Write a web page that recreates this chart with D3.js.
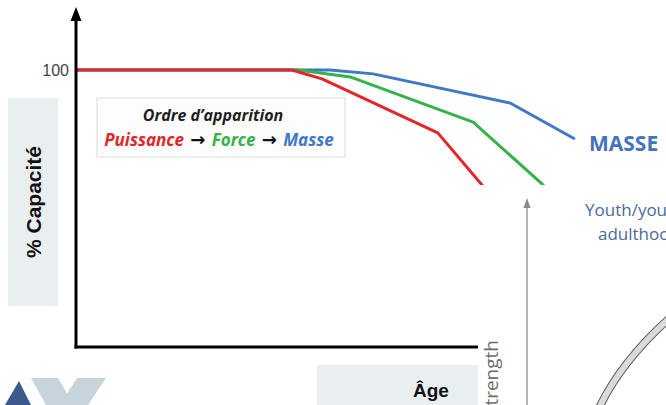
<!DOCTYPE html>
<html>
<head>
<meta charset="utf-8">
<script src="https://cdn.jsdelivr.net/npm/d3@7"></script>
<style>
  html, body { margin: 0; padding: 0; background: #ffffff; }
  svg { display: block; }
</style>
</head>
<body>
<svg id="chart" width="666" height="405"></svg>
<script>
// Age (arbitrary units, axis end = 100) and capacity (% of peak)
const puissanceAge = [0, 53.7, 61.2, 90.0, 101.0, 106.7];
const puissanceCap = [100, 100, 96.8, 77.3, 58.5, 47.7];
const forceAge     = [0, 55.2, 68.2, 98.8, 116.2, 120.4];
const forceCap     = [100, 100, 97.5, 81.2, 58.5, 52.0];
const masseAge     = [0, 63.2, 73.9, 108.0, 124.1];
const masseCap     = [100, 100, 98.6, 88.1, 75.1];

const yTicks = [100];
const legendTitle = "Ordre d\u2019apparition";
const legendItems = ["Puissance", "Force", "Masse"];
const colors = { Puissance: "#e4252b", Force: "#35b34a", Masse: "#3f78c6" };

const svg = d3.select("#chart");

const x = d3.scaleLinear().domain([0, 100]).range([76, 478]);
const y = d3.scaleLinear().domain([0, 100]).range([347, 70]);

// Side label panels
svg.append("rect").attr("x", 8).attr("y", 98).attr("width", 50).attr("height", 208)
  .attr("fill", "#e9eef1");
svg.append("text")
  .attr("transform", "translate(41,202) rotate(-90)")
  .attr("text-anchor", "middle")
  .attr("font-family", "Liberation Sans, Arial, sans-serif")
  .attr("font-weight", "bold").attr("font-size", 21).attr("fill", "#111")
  .text("% Capacit\u00e9");

svg.append("rect").attr("x", 317).attr("y", 365).attr("width", 161).attr("height", 45)
  .attr("fill", "#e9eef1");
svg.append("text")
  .attr("x", 431).attr("y", 397)
  .attr("text-anchor", "middle")
  .attr("font-family", "Liberation Sans, Arial, sans-serif")
  .attr("font-weight", "bold").attr("font-size", 19).attr("fill", "#111")
  .text("\u00c2ge");

// Logo shapes, bottom left
svg.append("path").attr("d", "M31,378 L58,378 L74,405 L46,405 Z").attr("fill", "#c7d4dc");
svg.append("path").attr("d", "M77,378 L106,378 L88,405 L60,405 Z").attr("fill", "#c7d4dc");
svg.append("path").attr("d", "M19,381 L31,405 L5,405 Z").attr("fill", "#3d5a8e");

// Legend box
svg.append("rect").attr("x", 97).attr("y", 98).attr("width", 248).attr("height", 59)
  .attr("fill", "#fdfdfd").attr("stroke", "#dcdcdc").attr("stroke-width", 1);
svg.append("text")
  .attr("x", 213).attr("y", 121)
  .attr("text-anchor", "middle")
  .attr("font-family", "Open Sans, sans-serif")
  .attr("font-style", "italic").attr("font-weight", "bold")
  .attr("font-size", 16).attr("fill", "#1e1e1e")
  .text(legendTitle);
const legLine = svg.append("text")
  .attr("x", 219).attr("y", 146)
  .attr("text-anchor", "middle")
  .attr("font-family", "Open Sans, sans-serif")
  .attr("font-style", "italic").attr("font-weight", "bold")
  .attr("font-size", 17);
legendItems.forEach((name, i) => {
  legLine.append("tspan").attr("fill", colors[name]).text(name);
  if (i < legendItems.length - 1) {
    legLine.append("tspan").attr("fill", "#111").attr("font-style", "normal")
      .attr("font-family", "DejaVu Sans, sans-serif").attr("font-size", 18)
      .text(" \u2192 ");
  }
});

// Capacity curves
const line = d3.line().x(d => x(d[0])).y(d => y(d[1]));
const series = [
  { name: "Masse", age: masseAge, cap: masseCap },
  { name: "Force", age: forceAge, cap: forceCap },
  { name: "Puissance", age: puissanceAge, cap: puissanceCap }
];
series.forEach(s => {
  svg.append("path")
    .datum(d3.zip(s.age, s.cap))
    .attr("d", line)
    .attr("fill", "none")
    .attr("stroke", colors[s.name])
    .attr("stroke-width", 3)
    .attr("stroke-linejoin", "round");
});

svg.append("text")
  .attr("x", 589).attr("y", 151)
  .attr("font-family", "Open Sans, sans-serif")
  .attr("font-weight", "bold").attr("font-size", 21).attr("fill", "#4472bd")
  .text("MASSE");

// Axes
const yAxis = d3.axisLeft(y).tickValues(yTicks).tickSize(0).tickPadding(7);
const gy = svg.append("g").attr("transform", "translate(76,0)").call(yAxis);
gy.select(".domain").remove();
gy.selectAll("text")
  .attr("font-family", "Liberation Sans, Arial, sans-serif")
  .attr("font-size", 16).attr("fill", "#444");

svg.append("line").attr("x1", 76).attr("x2", 76).attr("y1", 18).attr("y2", 348.5)
  .attr("stroke", "#000").attr("stroke-width", 3);
svg.append("path").attr("d", "M76,7 L81.5,21 L70.5,21 Z").attr("fill", "#000");
svg.append("line").attr("x1", 74.5).attr("x2", x(100)).attr("y1", 347).attr("y2", 347)
  .attr("stroke", "#000").attr("stroke-width", 3);

// Overlapping second figure, lower right
const inset = svg.append("g");
inset.append("rect").attr("x", 479).attr("y", 185).attr("width", 187).attr("height", 220)
  .attr("fill", "#ffffff");
inset.append("line").attr("x1", 527).attr("x2", 527).attr("y1", 206).attr("y2", 405)
  .attr("stroke", "#9a9a9a").attr("stroke-width", 1.5);
inset.append("path").attr("d", "M527,198 L530.5,208 L523.5,208 Z").attr("fill", "#8a8a8a");
inset.append("text")
  .attr("transform", "translate(498,416) rotate(-90)")
  .attr("font-family", "Open Sans, sans-serif")
  .attr("font-size", 19).attr("fill", "#6e6e6e")
  .text("Strength");
inset.append("text")
  .attr("x", 585).attr("y", 216)
  .attr("font-family", "Open Sans, sans-serif")
  .attr("font-size", 17).attr("fill", "#4d6a96")
  .text("Youth/young");
inset.append("text")
  .attr("x", 598).attr("y", 240)
  .attr("font-family", "Open Sans, sans-serif")
  .attr("font-size", 17).attr("fill", "#4d6a96")
  .text("adulthood");
const band = "M599,408 Q622,360 672,316";
inset.append("path").attr("d", band).attr("fill", "none")
  .attr("stroke", "#555").attr("stroke-width", 8);
inset.append("path").attr("d", band).attr("fill", "none")
  .attr("stroke", "#dadada").attr("stroke-width", 6);
</script>
</body>
</html>
